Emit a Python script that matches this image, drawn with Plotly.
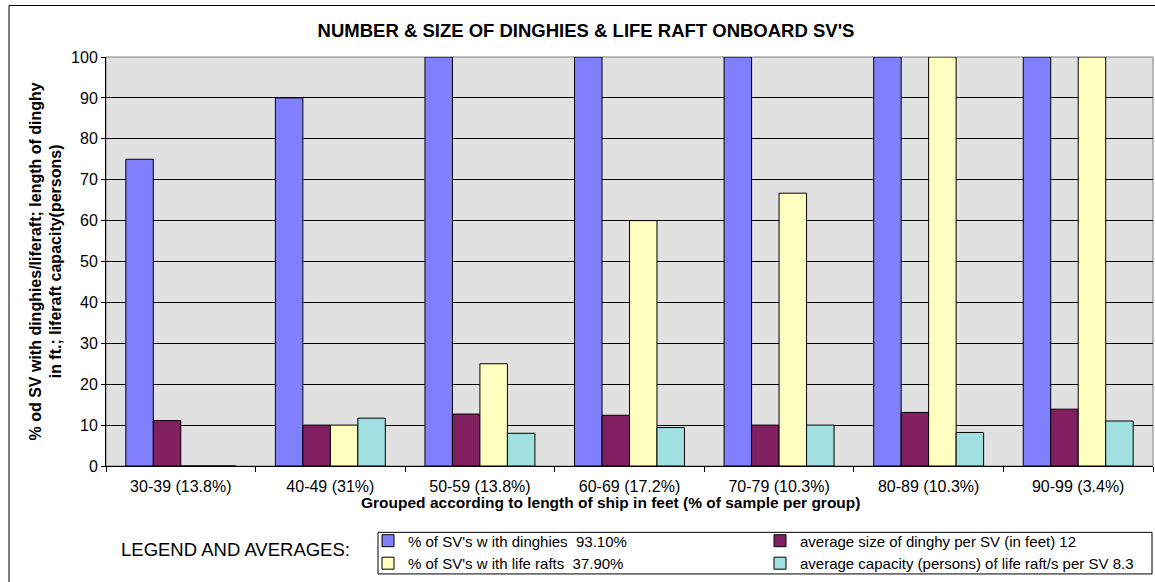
import plotly.graph_objects as go

# Length groups (ft) with share of the sample
groups = ["30-39 (13.8%)", "40-49 (31%)", "50-59 (13.8%)", "60-69 (17.2%)",
          "70-79 (10.3%)", "80-89 (10.3%)", "90-99 (3.4%)"]

pct_with_dinghies = [75, 90, 100, 100, 100, 100, 100]
avg_dinghy_size_ft = [11.1, 10, 12.7, 12.4, 10, 13.1, 13.9]
pct_with_liferafts = [0, 10, 25, 60, 66.7, 100, 100]
avg_raft_capacity = [0, 11.7, 8.0, 9.4, 10, 8.2, 11.0]

series_names = [
    "% of SV's w ith dinghies \u00a093.10%",
    "average size of dinghy per SV (in feet) 12",
    "% of SV's w ith life rafts \u00a037.90%",
    "average capacity (persons) of life raft/s per SV 8.3",
]
series_values = [pct_with_dinghies, avg_dinghy_size_ft, pct_with_liferafts, avg_raft_capacity]
series_colors = ["#8080FF", "#802060", "#FFFFC0", "#A0E0E0"]
# legend columns: left column = dinghy/raft share, right column = averages
legend_groups = ["share", "avg", "share", "avg"]

FONT = "Liberation Sans, Arial, sans-serif"

W, H = 1155, 582
L, R, T, B = 106, 2, 57, 112
PW, PH = W - L - R, H - T - B


def px_x(px):
    return (px - L) / PW


def px_y(py):
    return (H - B - py) / PH


fig = go.Figure()
for name, vals, col, grp in zip(series_names, series_values, series_colors, legend_groups):
    fig.add_trace(go.Bar(
        x=groups, y=vals, name=name,
        marker=dict(color=col, line=dict(color="black", width=1)),
        legendgroup=grp, legendwidth=347,
    ))

fig.update_layout(
    width=W, height=H,
    margin=dict(l=L, r=R, t=T, b=B, pad=0),
    paper_bgcolor="white",
    plot_bgcolor="#E1E1E1",
    barmode="group",
    bargap=0.265,
    bargroupgap=0,
    font=dict(family=FONT, size=16, color="black"),
    title=dict(
        text="<b>NUMBER & SIZE OF DINGHIES & LIFE RAFT ONBOARD SV'S</b>",
        font=dict(family=FONT, size=18.5, color="black"),
        x=px_x(586), xref="paper", xanchor="center",
        y=1 - 31 / H, yref="container", yanchor="middle",
    ),
    xaxis=dict(
        type="category",
        showgrid=False,
        showline=True, linecolor="black", linewidth=1,
        ticks="outside", ticklen=5, tickcolor="black", tickwidth=1,
        tickson="boundaries",
        tickfont=dict(family=FONT, size=16, color="black"),
        ticklabelstandoff=6,
        fixedrange=True,
    ),
    yaxis=dict(
        range=[0, 100], dtick=10, tick0=0,
        showgrid=True, gridcolor="black", gridwidth=1,
        zeroline=False,
        showline=True, linecolor="black", linewidth=1,
        ticks="outside", ticklen=4, tickcolor="black", tickwidth=1,
        tickfont=dict(family=FONT, size=16, color="black"),
        fixedrange=True,
    ),
    showlegend=True,
    legend=dict(
        orientation="h",
        traceorder="grouped",
        tracegroupgap=0,
        x=px_x(368), xanchor="left",
        y=px_y(529), yanchor="top",
        bgcolor="rgba(0,0,0,0)",
        borderwidth=0,
        font=dict(family=FONT, size=15, color="black"),
        itemclick=False, itemdoubleclick=False,
    ),
)

# plot-area frame (grey, under the bars), legend box and outer chart frame
fig.add_shape(type="rect", xref="paper", yref="paper", x0=0, x1=1, y0=0, y1=1,
              line=dict(color="#808080", width=1), fillcolor="rgba(0,0,0,0)", layer="between")
fig.add_shape(type="rect", xref="paper", yref="paper",
              x0=px_x(378), x1=px_x(1152), y0=px_y(579), y1=px_y(537),
              line=dict(color="black", width=1), fillcolor="rgba(0,0,0,0)")
fig.add_shape(type="rect", xref="paper", yref="paper",
              x0=px_x(9), x1=px_x(1170), y0=px_y(600), y1=px_y(5),
              line=dict(color="black", width=1), fillcolor="rgba(0,0,0,0)")

fig.add_annotation(
    text="<b>% od SV with dinghies/liferaft; length of dinghy<br>in ft.; liferaft capacity(persons)</b>",
    xref="paper", yref="paper", x=px_x(45), y=0.5,
    xanchor="center", yanchor="middle", textangle=-90, showarrow=False,
    font=dict(family=FONT, size=16, color="black"), align="center",
)
fig.add_annotation(
    text="<b>Grouped according to length of ship in feet (% of sample per group)</b>",
    xref="paper", yref="paper", x=px_x(610), y=px_y(507),
    xanchor="center", yanchor="middle", showarrow=False,
    font=dict(family=FONT, size=15.5, color="black"),
)
fig.add_annotation(
    text="LEGEND AND AVERAGES:",
    xref="paper", yref="paper", x=px_x(235), y=px_y(554),
    xanchor="center", yanchor="middle", showarrow=False,
    font=dict(family=FONT, size=18.5, color="black"),
)

fig.write_html("out.html")
